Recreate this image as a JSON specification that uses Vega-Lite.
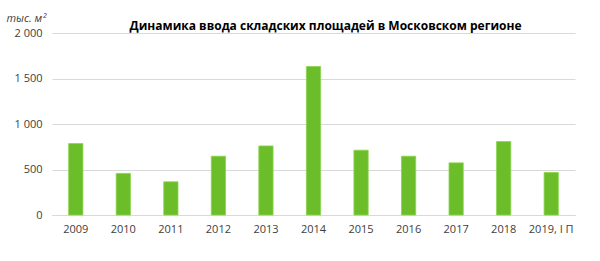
{
  "$schema": "https://vega.github.io/schema/vega-lite/v6.json",
  "autosize": {"type": "none"},
  "width": 523,
  "height": 182,
  "padding": {"left": 52, "top": 33, "right": 25, "bottom": 46},
  "background": "white",
  "title": {
    "text": "Динамика ввода складских площадей в Московском регионе",
    "font": "Open Sans",
    "fontSize": 12,
    "fontWeight": "bold",
    "color": "#000000",
    "anchor": "middle",
    "baseline": "alphabetic",
    "dx": 12,
    "dy": 34
  },
  "data": {
    "values": [
      {"year": "2009", "value": 785},
      {"year": "2010", "value": 457},
      {"year": "2011", "value": 365},
      {"year": "2012", "value": 646},
      {"year": "2013", "value": 759},
      {"year": "2014", "value": 1632},
      {"year": "2015", "value": 712},
      {"year": "2016", "value": 646},
      {"year": "2017", "value": 573},
      {"year": "2018", "value": 807},
      {"year": "2019, I П", "value": 467}
    ]
  },
  "mark": {"type": "bar", "color": "#6BBE29", "stroke": "#8CD44E", "strokeWidth": 0.8},
  "encoding": {
    "x": {
      "field": "year",
      "type": "nominal",
      "sort": null,
      "scale": {"paddingInner": 0.7, "paddingOuter": 0.35},
      "axis": {
        "title": null,
        "labelAngle": 0,
        "labelFont": "Open Sans",
        "labelFontSize": 11,
        "labelColor": "#404040",
        "labelPadding": 8,
        "ticks": false,
        "domain": true,
        "domainColor": "#d9d9d9",
        "grid": false
      }
    },
    "y": {
      "field": "value",
      "type": "quantitative",
      "scale": {"domain": [0, 2000]},
      "axis": {
        "values": [0, 500, 1000, 1500, 2000],
        "labelExpr": "replace(format(datum.value, ','), ',', ' ')",
        "labelFont": "Open Sans",
        "labelFontSize": 11,
        "labelColor": "#404040",
        "labelPadding": 10,
        "ticks": false,
        "domain": false,
        "grid": true,
        "gridColor": "#d9d9d9",
        "title": "тыс. м²",
        "titleFont": "Open Sans",
        "titleFontSize": 11,
        "titleFontStyle": "italic",
        "titleFontWeight": "normal",
        "titleColor": "#404040",
        "titleAngle": 0,
        "titleAlign": "left",
        "titleBaseline": "middle",
        "titleX": -46,
        "titleY": -15
      }
    }
  },
  "config": {"view": {"stroke": null}}
}
